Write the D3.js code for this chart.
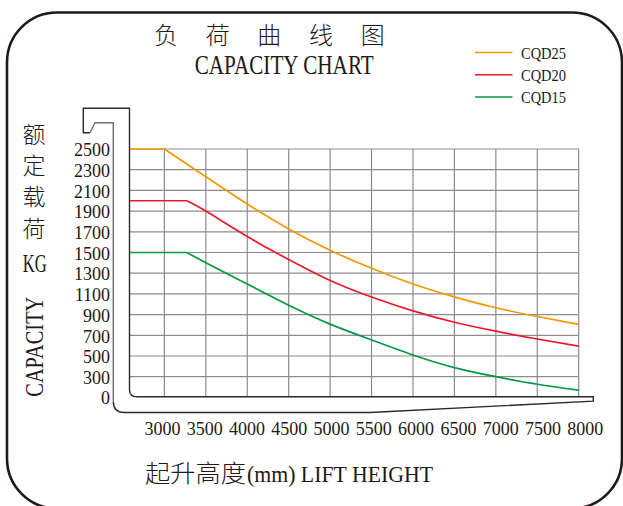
<!DOCTYPE html>
<html>
<head>
<meta charset="utf-8">
<script src="https://cdn.jsdelivr.net/npm/d3@7"></script>
<style>
  html, body { margin: 0; padding: 0; background: #fff; }
  svg { display: block; }
</style>
</head>
<body>
<svg id="chart" width="623" height="506"></svg>
<script>
// ---------------- data ----------------
const seriesNames = ["CQD25", "CQD20", "CQD15"];
const seriesColors = ["#f39800", "#e8192c", "#009944"];
const liftHeights = [3000, 3500, 4000, 4500, 5000, 5500, 6000, 6500, 7000, 7500, 8000];
const cqd25 = [2500, 2232, 1968, 1728, 1522, 1347, 1196, 1071, 966, 882, 806];
const cqd20 = [2000, 1900, 1655, 1432, 1230, 1070, 936, 826, 740, 664, 595];
const cqd15 = [1500, 1402, 1195, 990, 808, 655, 510, 388, 300, 187, 98];
const kneeHeights = [3000, 3270, 3270];
const capacityTicks = [0, 300, 500, 700, 900, 1100, 1300, 1500, 1700, 1900, 2100, 2300, 2500];
const minHeight = 2585;
const titleCn = ["负", "荷", "曲", "线", "图"];
const titleEn = "CAPACITY CHART";
const yTitleCn = "额定载荷";
const yTitleUnit = "KG";
const yTitleEn = "CAPACITY";
const xTitleCn = "起升高度";
const xTitleEn = "(mm) LIFT HEIGHT";

const seriesValues = [cqd25, cqd20, cqd15];

// ---------------- drawing ----------------
const svg = d3.select("#chart");
const ink = "#231815";
const serif = "'Liberation Serif', 'Times New Roman', serif";
const cjk = "'Noto Sans CJK SC', sans-serif";

const x = d3.scaleLinear().domain([minHeight, 8000]).range([130, 578.7]);
const xLabel = d3.scaleLinear().domain([3000, 8000]).range([162, 584.7]);
const y = d3.scaleLinear().domain([0, 300, 2500]).range([396.7, 376.7, 149]);

// outer rounded frame
svg.append("rect")
  .attr("x", 7).attr("y", 12.5)
  .attr("width", 615).attr("height", 496)
  .attr("rx", 50).attr("ry", 50)
  .attr("fill", "none").attr("stroke", ink).attr("stroke-width", 2.6);

// grid
const g = svg.append("g");
const x0 = x.range()[0], x1 = x.range()[1];
const yBottom = y(0), yTop = y(2500);
g.selectAll("line.h").data(capacityTicks.filter(d => d > 0)).join("line")
  .attr("x1", x0).attr("x2", x1)
  .attr("y1", d => y(d)).attr("y2", d => y(d))
  .attr("stroke", "#8c8c8c").attr("stroke-width", 1.2);
g.selectAll("line.v").data(liftHeights).join("line")
  .attr("x1", d => x(d)).attr("x2", d => x(d))
  .attr("y1", yTop).attr("y2", yBottom)
  .attr("stroke", "#8c8c8c").attr("stroke-width", 1.2);

// fork outline
const forkTop = 108.3, innerX = 113.3, lowY = 412.5, tipX = x1 + 14.6;
const outer = d3.path();
outer.moveTo(90, 132.7);
outer.lineTo(83.3, 132.7);
outer.lineTo(83.3, forkTop);
outer.lineTo(x0 - 0.5, forkTop);
outer.lineTo(x0 - 0.5, yBottom - 7);
outer.quadraticCurveTo(x0 - 0.5, yBottom, x0 + 7, yBottom);
outer.lineTo(tipX, yBottom);
outer.lineTo(tipX, yBottom + 4.5);
outer.lineTo(370, lowY);
outer.lineTo(innerX + 11, lowY);
outer.quadraticCurveTo(innerX, lowY, innerX, lowY - 11);
svg.append("path").attr("d", outer.toString())
  .attr("fill", "none").attr("stroke", "#2a2a2a").attr("stroke-width", 1.4);
const inner = d3.path();
inner.moveTo(90, 132.7);
inner.lineTo(95, 122.7);
inner.lineTo(innerX, 122.7);
inner.lineTo(innerX, lowY - 11);
svg.append("path").attr("d", inner.toString())
  .attr("fill", "none").attr("stroke", "#6e6e6e").attr("stroke-width", 1.4);

// y axis labels
const yAxis = d3.axisLeft(y).tickValues(capacityTicks).tickSize(0).tickPadding(20).tickFormat(d3.format("d"));
const ya = svg.append("g").attr("transform", `translate(${x0},1)`).call(yAxis);
ya.select(".domain").remove();
ya.selectAll("text").attr("font-family", serif).attr("font-size", 18).attr("fill", ink);

// x axis labels
const xAxis = d3.axisBottom(xLabel).tickValues(liftHeights).tickSize(0).tickPadding(25.5).tickFormat(d3.format("d"));
const xa = svg.append("g").attr("transform", `translate(0,${yBottom})`).call(xAxis);
xa.select(".domain").remove();
xa.selectAll("text").attr("font-family", serif).attr("font-size", 18).attr("fill", ink);

// curves
const flatLine = d3.line().x(d => x(d[0])).y(d => y(d[1]));
const curveLine = d3.line().x(d => x(d[0])).y(d => y(d[1])).curve(d3.curveNatural);
seriesNames.forEach((name, i) => {
  const vals = seriesValues[i];
  const rated = vals[0];
  const knee = kneeHeights[i];
  const flat = [[minHeight, rated], [knee, rated]];
  const desc = [[knee, rated]].concat(liftHeights.map((h, j) => [h, vals[j]]).filter(p => p[0] > knee));
  svg.append("path").attr("d", flatLine(flat))
    .attr("fill", "none").attr("stroke", seriesColors[i]).attr("stroke-width", 1.7);
  svg.append("path").attr("d", curveLine(desc))
    .attr("fill", "none").attr("stroke", seriesColors[i]).attr("stroke-width", 1.7);
});

// legend
const legendY = d3.scalePoint().domain(seriesNames).range([52.5, 97]);
const lg = svg.append("g");
lg.selectAll("line").data(seriesNames).join("line")
  .attr("x1", 475).attr("x2", 512.5)
  .attr("y1", d => legendY(d)).attr("y2", d => legendY(d))
  .attr("stroke", (d, i) => seriesColors[i]).attr("stroke-width", 1.4);
lg.selectAll("text").data(seriesNames).join("text")
  .attr("x", 521).attr("y", d => legendY(d) + 6)
  .attr("font-family", serif).attr("font-size", 17.5).attr("fill", ink)
  .attr("textLength", 45).attr("lengthAdjust", "spacingAndGlyphs")
  .text(d => d);

// titles
svg.append("text")
  .attr("x", [166, 217.7, 269.3, 321, 372.7].join(" "))
  .attr("y", 43.5)
  .attr("text-anchor", "middle")
  .attr("font-family", cjk).attr("font-weight", 300).attr("font-size", 24).attr("fill", ink)
  .text(titleCn.join(""));
svg.append("text")
  .attr("x", 194.7).attr("y", 74)
  .attr("font-family", serif).attr("font-size", 28).attr("fill", ink)
  .attr("textLength", 179).attr("lengthAdjust", "spacingAndGlyphs")
  .text(titleEn);

// y title (vertical)
svg.append("text")
  .attr("x", 34).attr("y", 122.5)
  .attr("writing-mode", "vertical-rl")
  .attr("font-family", cjk).attr("font-weight", 300).attr("font-size", 23).attr("fill", ink)
  .attr("letter-spacing", 8.3)
  .text(yTitleCn);
svg.append("text")
  .attr("x", 22.7).attr("y", 271.7)
  .attr("font-family", serif).attr("font-size", 26).attr("fill", ink)
  .attr("textLength", 24).attr("lengthAdjust", "spacingAndGlyphs")
  .text(yTitleUnit);
svg.append("text")
  .attr("transform", "translate(43.3,346.7) rotate(-90)")
  .attr("text-anchor", "middle")
  .attr("font-family", serif).attr("font-size", 26).attr("fill", ink)
  .attr("textLength", 100).attr("lengthAdjust", "spacingAndGlyphs")
  .text(yTitleEn);

// x title
svg.append("text")
  .attr("x", 145).attr("y", 481.5)
  .attr("font-family", cjk).attr("font-weight", 300).attr("font-size", 24).attr("fill", ink)
  .attr("textLength", 101).attr("lengthAdjust", "spacingAndGlyphs")
  .text(xTitleCn);
svg.append("text")
  .attr("x", 247).attr("y", 481.5)
  .attr("font-family", serif).attr("font-size", 24).attr("fill", ink)
  .attr("textLength", 186).attr("lengthAdjust", "spacingAndGlyphs")
  .text(xTitleEn);
</script>
</body>
</html>
